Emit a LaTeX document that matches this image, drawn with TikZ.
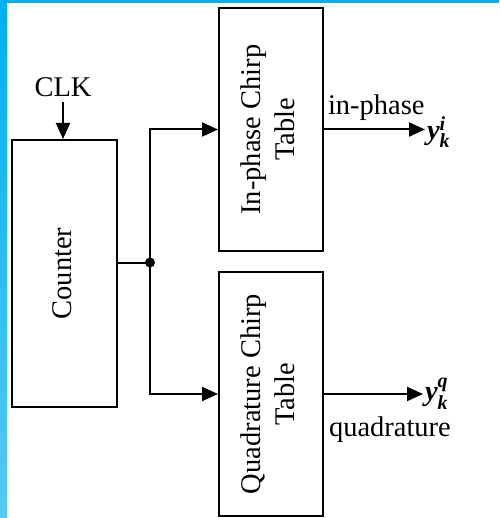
\documentclass[tikz,border=0pt]{standalone}
\usepackage{fontspec}
\usepackage{amsmath}
\setmainfont{Liberation Serif}
\usetikzlibrary{arrows.meta, positioning}

\definecolor{frametop}{HTML}{00B0F0}
\definecolor{framebot}{HTML}{55C9F5}

\tikzset{
  block/.style={draw, line width=2pt, inner sep=0pt},
  txt/.style={font=\fontsize{28.5}{34}\selectfont},
}
\newcommand{\vtext}[1]{\rotatebox{90}{\begin{tabular}{@{}c@{}}#1\end{tabular}}}

\begin{document}
\begin{tikzpicture}[x=1pt, y=-1pt, >={Triangle[length=16pt,width=14pt]}, line width=2pt, txt]
        \useasboundingbox (0,0) rectangle (499,518);
        % blue frame
        \fill[frametop] (0,0) rectangle (499,3.5);
        \shade[top color=frametop, bottom color=framebot] (0,0) rectangle (7,518);

        \node[block, minimum width=105pt, minimum height=267pt] (CNT) at (64.5,273.5) {\vtext{Counter}};
        \node[block, minimum width=104pt, minimum height=243pt] (IPT) at (271,129.5) {\vtext{In-phase Chirp\\Table}};
        \node[block, minimum width=104pt, minimum height=244pt] (QPT) at (271,394) {\vtext{Quadrature Chirp\\Table}};
        \node[inner sep=4pt] (CLK) at (63,87) {CLK};
        \draw[->] (CLK) -- (CLK |- CNT.north);

        \coordinate (J) at (150,262.5);
        \draw (CNT.east |- J) -- (J);
        \draw[->] (J) |- (IPT);
        \draw[->] (J) |- (QPT);
        \fill (J) circle (5pt);

        \node[anchor=west, inner sep=1pt] (YI) at (425,132) {$\textbf{\textit{y}}_{\textbf{\textit{k}}}^{\textbf{\textit{i}}}$};
        \node[anchor=west, inner sep=1pt] (YQ) at (423,394) {$\textbf{\textit{y}}_{\textbf{\textit{k}}}^{\textbf{\textit{q}}}$};
        \draw[->] (IPT) -- (IPT -| YI.west);
        \draw[->] (QPT) -- (QPT -| YQ.west);
        \node[anchor=base west, inner sep=0pt] (IPL) at (327,115) {in-phase};
        \node[anchor=base west, inner sep=0pt] (QDL) at (328,436) {quadrature};
\end{tikzpicture}
\end{document}
